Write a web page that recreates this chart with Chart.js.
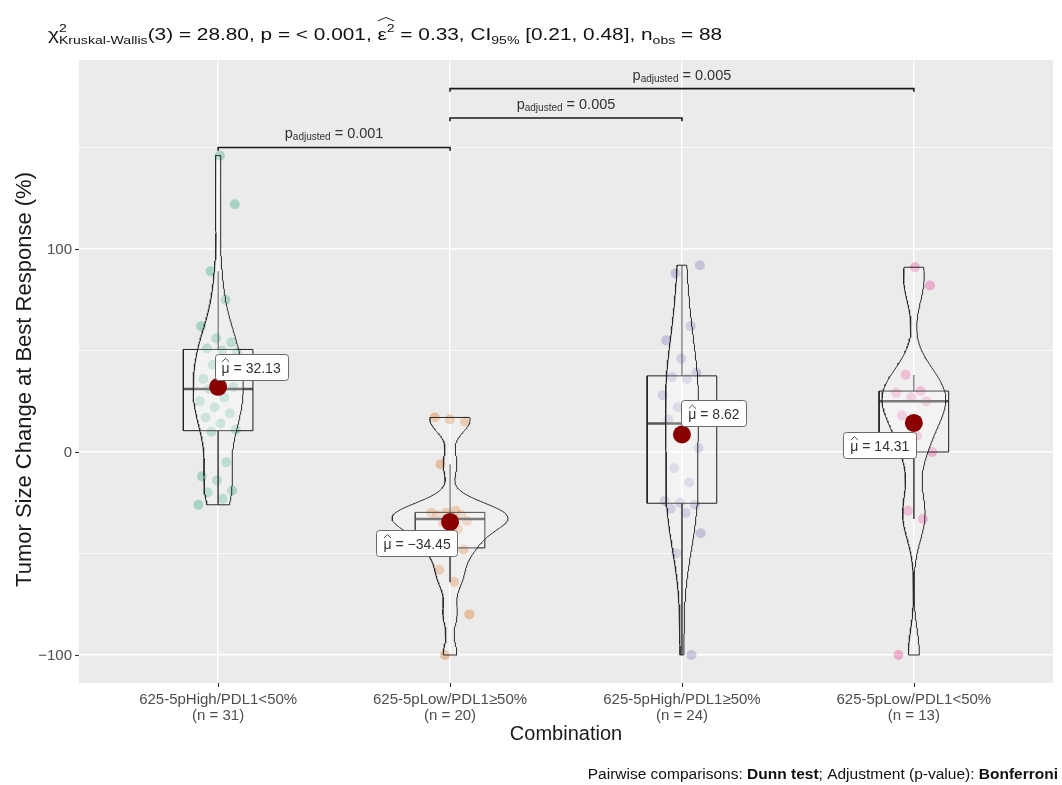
<!DOCTYPE html>
<html>
<head>
<meta charset="utf-8">
<script src="https://cdn.jsdelivr.net/npm/chart.js@4.4.1/dist/chart.umd.min.js"></script>
<style>
  html, body { margin: 0; padding: 0; background: #ffffff; }
  #wrap { width: 1062px; height: 785px; }
</style>
</head>
<body>
<div id="wrap"><canvas id="c" width="1062" height="785"></canvas></div>
<script>
// ---- data -------------------------------------------------------------
const categories = ['625-5pHigh/PDL1<50%', '625-5pLow/PDL1\u226550%', '625-5pHigh/PDL1\u226550%', '625-5pLow/PDL1<50%'];

const highLow50 = [-26, -23, -20, -19, -14, -12, -5, 10, 11, 14, 17, 19, 22, 25, 27, 31,
                   32, 34, 36, 40, 43, 49, 50, 51, 54, 56, 62, 75, 89, 122, 146];
const lowHigh50 = [-100, -80, -64, -58, -48, -47, -44, -38, -35, -34, -32, -31, -31, -30,
                   -30, -29, -6, 15, 16, 17];
const highHigh50 = [-100, -50, -40, -30, -28, -26, -25, -24, -15, -8, 2, 12, 16, 18, 22,
                    28, 36, 37, 39, 46, 55, 62, 88, 92];
const lowLow50 = [-100, -33, -29, 0, 8, 18, 25, 27, 29, 30, 38, 82, 91];

const groupValues = [highLow50, lowHigh50, highHigh50, lowLow50];
const groupMeans = [32.13, -34.45, 8.62, 14.31];

const yMajorTicks = [-100, 0, 100];
const yMinorTicks = [-50, 50, 150];

// pairwise comparisons (1-based category positions)
const pairFrom = [1, 2, 2];
const pairTo = [2, 3, 4];
const pairP = ['0.001', '0.005', '0.005'];
const pairY = [150, 164.5, 179];

const groupColors = ['#1B9E77', '#D95F02', '#7570B3', '#E7298A'];

// ---- styling / layout --------------------------------------------------
const FONT = '"Liberation Sans", Arial, Helvetica, sans-serif';
const TEXT_DARK = '#333333';
const TICK_GREY = '#4D4D4D';
const BOX_HALF = 0.15;       // box width 0.3 category units
const VIOLIN_HALF = 0.25;    // violin max width 0.5 category units
const BRACKET_TIP = 1.6;
const meanLabelShift = [[33, -20], [-33, 21], [32, -21], [-34, 22]];

// ---- statistics helpers ---------------------------------------------------
function sortedCopy(a) { return a.slice().sort((p, q) => p - q); }
function quantile(s, p) {
  const pos = (s.length - 1) * p, lo = Math.floor(pos), hi = Math.ceil(pos);
  return s[lo] + (s[hi] - s[lo]) * (pos - lo);
}
function stdev(a) {
  const m = a.reduce((t, v) => t + v, 0) / a.length;
  return Math.sqrt(a.reduce((t, v) => t + (v - m) * (v - m), 0) / (a.length - 1));
}
function bwNrd0(a) {
  const s = sortedCopy(a);
  const sdv = stdev(a);
  let lo = Math.min(sdv, (quantile(s, 0.75) - quantile(s, 0.25)) / 1.34);
  if (!(lo > 0)) lo = sdv || Math.abs(s[0]) || 1;
  return 0.9 * lo * Math.pow(a.length, -0.2);
}
function kde(a, bw, y) {
  let t = 0;
  for (const v of a) { const z = (y - v) / bw; t += Math.exp(-0.5 * z * z); }
  return t / (a.length * bw * Math.sqrt(2 * Math.PI));
}

// ---- build geometry in data units --------------------------------------
const NGRID = 256;
const densities = groupValues.map(vals => {
  const s = sortedCopy(vals), bw = bwNrd0(vals);
  const lo = s[0], hi = s[s.length - 1];
  const ys = [], ds = [];
  for (let i = 0; i < NGRID; i++) {
    const y = lo + (hi - lo) * i / (NGRID - 1);
    ys.push(y); ds.push(kde(vals, bw, y));
  }
  return { ys, ds };
});
const maxDensity = Math.max(...densities.map(d => Math.max(...d.ds)));

const datasets = [];

// violins
densities.forEach((d, g) => {
  const c = g + 1, pts = [];
  for (let i = 0; i < d.ys.length; i++) pts.push({ x: c + d.ds[i] / maxDensity * VIOLIN_HALF, y: d.ys[i] });
  for (let i = d.ys.length - 1; i >= 0; i--) pts.push({ x: c - d.ds[i] / maxDensity * VIOLIN_HALF, y: d.ys[i] });
  pts.push(pts[0]);
  datasets.push({
    type: 'line', data: pts, order: 4, fill: 'shape',
    backgroundColor: 'rgba(255,255,255,0.22)', borderColor: '#2b2b2b', borderWidth: 1,
    pointRadius: 0, tension: 0
  });
});

// boxes, medians, whiskers
groupValues.forEach((vals, g) => {
  const c = g + 1, s = sortedCopy(vals);
  const q1 = quantile(s, 0.25), q2 = quantile(s, 0.5), q3 = quantile(s, 0.75), iqr = q3 - q1;
  const upper = Math.max(...s.filter(v => v <= q3 + 1.5 * iqr));
  const lower = Math.min(...s.filter(v => v >= q1 - 1.5 * iqr));
  const line = (data, width, order) => datasets.push({
    type: 'line', data, order, fill: false, borderColor: '#1f1f1f',
    borderWidth: width, pointRadius: 0, tension: 0
  });
  line([{ x: c, y: q3 }, { x: c, y: upper }], 1, 5);
  line([{ x: c, y: q1 }, { x: c, y: lower }], 1, 5);
  datasets.push({
    type: 'line', order: 5, fill: 'shape', backgroundColor: 'rgba(255,255,255,0.25)',
    borderColor: '#1f1f1f', borderWidth: 1, pointRadius: 0, tension: 0,
    data: [{ x: c - BOX_HALF, y: q1 }, { x: c + BOX_HALF, y: q1 }, { x: c + BOX_HALF, y: q3 },
           { x: c - BOX_HALF, y: q3 }, { x: c - BOX_HALF, y: q1 }]
  });
  line([{ x: c - BOX_HALF, y: q2 }, { x: c + BOX_HALF, y: q2 }], 2.6, 5);
});

// jittered observations (deterministic spread)
groupValues.forEach((vals, g) => {
  const c = g + 1;
  datasets.push({
    type: 'scatter', order: 6,
    data: vals.map((v, i) => ({ x: c + (((i * 0.6180339887 + g * 0.37) % 1) - 0.5) * 0.17, y: v })),
    pointRadius: 5, pointBorderWidth: 0,
    pointBackgroundColor: groupColors[g] + '52'
  });
});

// significance brackets
pairFrom.forEach((a, k) => {
  const b = pairTo[k], y = pairY[k];
  datasets.push({
    type: 'line', order: 3, fill: false, borderColor: '#1a1a1a', borderWidth: 1.6,
    pointRadius: 0, tension: 0,
    data: [{ x: a, y: y - BRACKET_TIP }, { x: a, y }, { x: b, y }, { x: b, y: y - BRACKET_TIP }]
  });
});

// means
datasets.push({
  type: 'scatter', order: 2,
  data: groupMeans.map((m, g) => ({ x: g + 1, y: m })),
  pointRadius: 9, pointBorderWidth: 0, pointBackgroundColor: '#8B0000'
});

// ---- text helpers ----------------------------------------------------------
// segments: {t: text, s: size, b: bold, dy: baseline shift,
//            noAdv: overlay on the next segment, hat / hatNext: circumflex accent}
function setFont(ctx, seg) { ctx.font = (seg.b ? 'bold ' : '') + seg.s + 'px ' + FONT; }
function layoutRich(ctx, segs) {
  let x = 0; const out = [];
  segs.forEach(seg => {
    setFont(ctx, seg);
    const w = ctx.measureText(seg.t).width;
    out.push({ seg, x, w });
    if (!seg.noAdv) x += w;
  });
  return { parts: out, width: x };
}
function drawRich(ctx, segs, x, y, align, color) {
  const L = layoutRich(ctx, segs);
  const x0 = align === 'center' ? x - L.width / 2 : align === 'right' ? x - L.width : x;
  ctx.fillStyle = color; ctx.textBaseline = 'alphabetic'; ctx.textAlign = 'left';
  L.parts.forEach((p, i) => {
    setFont(ctx, p.seg);
    ctx.fillText(p.seg.t, x0 + p.x, y + (p.seg.dy || 0));
    if (p.seg.hat) {
      const span = p.w + (p.seg.hatNext ? L.parts[i + 1].w : 0);
      const xa = x0 + p.x + 0.5, xb = x0 + p.x + span - 0.5;
      const top = y - p.seg.s * (p.seg.hatNext ? 1.12 : 0.78);
      ctx.save(); ctx.strokeStyle = color; ctx.lineWidth = 0.9;
      ctx.beginPath(); ctx.moveTo(xa, top); ctx.lineTo((xa + xb) / 2, top - 3.5); ctx.lineTo(xb, top); ctx.stroke();
      ctx.restore();
    }
  });
  return { x0, width: L.width };
}
function fmtNum(v) { return (v < 0 ? '\u2212' : '') + Math.abs(v).toFixed(2); }

// ---- chart decorations ------------------------------------------------------
const decorations = {
  id: 'decorations',
  beforeDraw(chart) {
    const { ctx, chartArea: a } = chart;
    ctx.save();
    ctx.fillStyle = '#ffffff'; ctx.fillRect(0, 0, chart.width, chart.height);
    ctx.fillStyle = '#EBEBEB'; ctx.fillRect(a.left, a.top, a.right - a.left, a.bottom - a.top);
    ctx.restore();
  },
  afterDatasetsDraw(chart) {
    const { ctx } = chart, xs = chart.scales.x, ys = chart.scales.y;
    ctx.save();
    // mean labels
    groupMeans.forEach((m, g) => {
      const px = xs.getPixelForValue(g + 1), py = ys.getPixelForValue(m);
      const segs = [{ t: '\u03bc', s: 14, hat: true }, { t: ' = ' + fmtNum(m), s: 14 }];
      const w = layoutRich(ctx, segs).width + 14, h = 26;
      const cx = px + meanLabelShift[g][0], cy = py + meanLabelShift[g][1];
      ctx.beginPath();
      ctx.roundRect(Math.round(cx - w / 2) + 0.5, Math.round(cy - h / 2) + 0.5, Math.round(w), h, 3);
      ctx.fillStyle = '#ffffff'; ctx.fill();
      ctx.strokeStyle = '#6a6a6a'; ctx.lineWidth = 1; ctx.stroke();
      drawRich(ctx, segs, cx, cy + 6, 'center', TEXT_DARK);
    });
    // bracket labels
    pairFrom.forEach((a, k) => {
      const cx = (xs.getPixelForValue(a) + xs.getPixelForValue(pairTo[k])) / 2;
      const py = ys.getPixelForValue(pairY[k]);
      drawRich(ctx, [{ t: 'p', s: 14.5 }, { t: 'adjusted', s: 10, dy: 2 }, { t: ' = ' + pairP[k], s: 14.5 }],
        cx, py - 9, 'center', TEXT_DARK);
    });
    ctx.restore();
  },
  afterDraw(chart) {
    const { ctx, chartArea: a } = chart, xs = chart.scales.x, ys = chart.scales.y;
    ctx.save();
    // tick marks
    ctx.strokeStyle = '#333333'; ctx.lineWidth = 1.1;
    yMajorTicks.forEach(v => {
      const py = Math.round(ys.getPixelForValue(v)) + 0.5;
      ctx.beginPath(); ctx.moveTo(a.left - 4, py); ctx.lineTo(a.left, py); ctx.stroke();
    });
    categories.forEach((c, i) => {
      const px = Math.round(xs.getPixelForValue(i + 1)) + 0.5;
      ctx.beginPath(); ctx.moveTo(px, a.bottom); ctx.lineTo(px, a.bottom + 4); ctx.stroke();
    });
    // y tick labels
    ctx.fillStyle = TICK_GREY; ctx.font = '15px ' + FONT;
    ctx.textAlign = 'right'; ctx.textBaseline = 'middle';
    yMajorTicks.forEach(v => {
      ctx.fillText((v < 0 ? '\u2212' : '') + Math.abs(v), a.left - 7, ys.getPixelForValue(v) + 1);
    });
    // x tick labels
    ctx.textAlign = 'center'; ctx.textBaseline = 'alphabetic';
    categories.forEach((c, i) => {
      const px = xs.getPixelForValue(i + 1);
      ctx.fillText(c, px, a.bottom + 21);
      ctx.fillText('(n = ' + groupValues[i].length + ')', px, a.bottom + 37);
    });
    // axis titles
    ctx.fillStyle = '#1a1a1a'; ctx.font = '20px ' + FONT;
    ctx.fillText('Combination', (a.left + a.right) / 2, a.bottom + 57);
    ctx.save();
    ctx.font = '22px ' + FONT;
    ctx.translate(31, (a.top + a.bottom) / 2 + 8);
    ctx.rotate(-Math.PI / 2);
    ctx.fillText('Tumor Size Change at Best Response (%)', 0, 0);
    ctx.restore();
    // subtitle with test statistics (set slightly wide)
    const T = 17, S = 11.5;
    ctx.save();
    ctx.translate(48, 0);
    ctx.scale(1.225, 1);
    drawRich(ctx, [
      { t: '\u03c7', s: T }, { t: '2', s: S, dy: -8, noAdv: true }, { t: 'Kruskal-Wallis', s: S, dy: 4 },
      { t: '(3) = 28.80, p = < 0.001, ', s: T },
      { t: '\u03b5', s: T, hat: true, hatNext: true }, { t: '2', s: S, dy: -8 },
      { t: ' = 0.33, CI', s: T }, { t: '95%', s: S, dy: 4 },
      { t: ' [0.21, 0.48], n', s: T }, { t: 'obs', s: S, dy: 4 }, { t: ' = 88', s: T }
    ], 0, 40, 'left', '#111111');
    ctx.restore();
    // caption
    drawRich(ctx, [
      { t: 'Pairwise comparisons: ', s: 15.5 }, { t: 'Dunn test', s: 15.5, b: true },
      { t: '; Adjustment (p-value): ', s: 15.5 }, { t: 'Bonferroni', s: 15.5, b: true }
    ], 1058, 779, 'right', '#111111');
    ctx.restore();
  }
};

// ---- chart -------------------------------------------------------------------
new Chart(document.getElementById('c'), {
  type: 'scatter',
  data: { datasets },
  options: {
    responsive: false,
    devicePixelRatio: 1,
    animation: false,
    events: [],
    layout: { padding: { left: 79, top: 60, right: 2, bottom: 102 } },
    plugins: { legend: { display: false }, tooltip: { enabled: false } },
    scales: {
      x: {
        type: 'linear', min: 0.4, max: 4.6,
        afterBuildTicks: s => { s.ticks = categories.map((c, i) => ({ value: i + 1 })); },
        ticks: { display: false },
        grid: { color: '#ffffff', lineWidth: 1.4, drawTicks: false },
        border: { display: false }
      },
      y: {
        type: 'linear', min: -113.8, max: 193.1,
        afterBuildTicks: s => {
          s.ticks = yMajorTicks.concat(yMinorTicks).sort((p, q) => p - q).map(v => ({ value: v }));
        },
        ticks: { display: false },
        grid: {
          color: '#ffffff', drawTicks: false,
          lineWidth: c => (yMajorTicks.includes(c.tick && c.tick.value) ? 1.4 : 0.7)
        },
        border: { display: false }
      }
    }
  },
  plugins: [decorations]
});
</script>
</body>
</html>
